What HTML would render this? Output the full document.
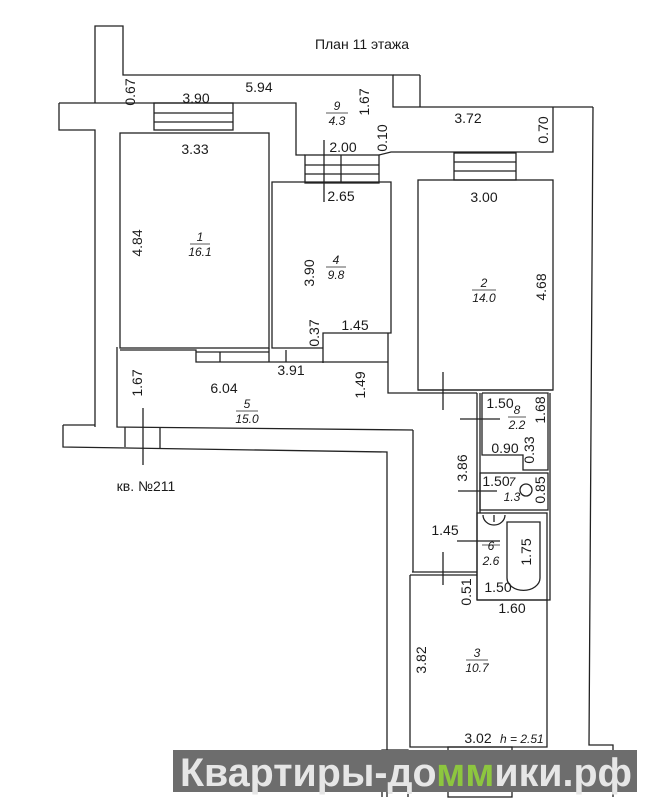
<!DOCTYPE html>
<html><head><meta charset="utf-8"><style>
html,body{margin:0;padding:0;background:#fff;width:645px;height:799px;overflow:hidden}
svg{display:block}
text{font-family:"Liberation Sans",Arial,sans-serif;fill:#1a1a1a}
.d{font-size:14px}
.i{font-size:12px;font-style:italic}
</style></head><body>
<svg width="645" height="799" viewBox="0 0 645 799" xmlns="http://www.w3.org/2000/svg">
<g fill="none" stroke="#222" stroke-width="1.3">
<polyline points="95,103 95,26 123,26 123,75 393,75 393,107 593,107"/>
<polyline points="59,103 296,103 296,155 305,155"/>
<polyline points="59,103 59,130 95,130 95,427"/>
<line x1="420" y1="75" x2="420" y2="107"/>
<line x1="393" y1="75" x2="420" y2="75"/>
<rect x="154" y="103" width="79" height="27"/>
<line x1="154" y1="113" x2="233" y2="113"/><line x1="154" y1="122" x2="233" y2="122"/>
<rect x="120" y="133" width="149" height="215"/>
<rect x="305" y="155" width="74" height="28"/>
<line x1="305" y1="165" x2="379" y2="165"/><line x1="305" y1="174" x2="379" y2="174"/>
<line x1="324" y1="140" x2="324" y2="202"/><line x1="341" y1="155" x2="341" y2="183"/>
<polyline points="379,155 391,152 553,152 553,107"/>
<rect x="454" y="153" width="62" height="27"/>
<line x1="454" y1="162" x2="516" y2="162"/><line x1="454" y1="171" x2="516" y2="171"/>
<polyline points="323,348 272,348 272,182 391,182 391,333 323,333 323,363"/>
<rect x="418" y="180" width="135" height="210"/>
<polyline points="593,107 589,745 613,745 613,797"/>
<polyline points="117,347 117,427 413,430"/>
<polyline points="120,350 196,350 196,362 388,362"/>
<line x1="196" y1="352" x2="269" y2="352"/>
<line x1="220" y1="352" x2="220" y2="362"/>
<line x1="269" y1="348" x2="269" y2="362"/>
<line x1="286" y1="350" x2="286" y2="362"/>
<polyline points="388,333 388,393 418,393"/>
<polyline points="63,425 63,447 387,452 387,797"/>
<line x1="63" y1="425" x2="95" y2="425"/>
<line x1="125" y1="427" x2="125" y2="447"/><line x1="160" y1="427" x2="160" y2="449"/>
<line x1="143" y1="408" x2="143" y2="465"/>
<polyline points="413,430 413,572"/>
<polyline points="418,390 553,390"/>
<line x1="418" y1="393" x2="477" y2="393"/>
<line x1="443" y1="372" x2="443" y2="410"/>
<line x1="477" y1="393" x2="477" y2="600"/>
<line x1="480" y1="393" x2="480" y2="513"/>
<polyline points="482,393 548,393 548,470 523,470 523,455 482,455 482,393"/>
<line x1="460" y1="419" x2="500" y2="419"/>
<rect x="480" y="473" width="68" height="37"/>
<circle cx="526" cy="490" r="6"/>
<line x1="458" y1="491" x2="497" y2="491"/>
<rect x="477" y="513" width="70" height="87"/>
<path d="M507,522 H540 V578 A16,12 0 0 1 507,578 Z"/>
<path d="M483,515 A11,10 0 0 0 505,515"/>
<line x1="494" y1="515" x2="494" y2="522"/>
<line x1="457" y1="541" x2="500" y2="541"/>
<line x1="443" y1="552" x2="443" y2="585"/>
<line x1="412" y1="572" x2="477" y2="572"/>
<polyline points="410,575 477,575"/>
<polyline points="477,600 550,600 550,393"/>
<polyline points="410,575 410,747 547,747 547,600"/>
<rect x="448" y="747" width="64" height="50"/>
<line x1="448" y1="757" x2="512" y2="757"/>
<polyline points="382,797 382,750 408,750 408,797"/>
</g>
<text x="362" y="49" class="d" text-anchor="middle">План 11 этажа</text>
<g class="d" text-anchor="middle">
<text x="259" y="92">5.94</text>
<text x="196" y="103">3.90</text>
<text x="468" y="123">3.72</text>
<text x="343" y="152">2.00</text>
<text x="195" y="154">3.33</text>
<text x="341" y="201">2.65</text>
<text x="484" y="202">3.00</text>
<text x="355" y="330">1.45</text>
<text x="291" y="375">3.91</text>
<text x="224" y="393">6.04</text>
<text x="146" y="491">кв. №211</text>
<text x="500" y="408">1.50</text>
<text x="505" y="453">0.90</text>
<text x="496" y="486">1.50</text>
<text x="445" y="535">1.45</text>
<text x="498" y="592">1.50</text>
<text x="512" y="613">1.60</text>
<text x="478" y="743">3.02</text>
</g>
<text x="500" y="743" class="i">h = 2.51</text>
<g class="d" text-anchor="middle">
<text transform="translate(135,92) rotate(-90)">0.67</text>
<text transform="translate(369,102) rotate(-90)">1.67</text>
<text transform="translate(387,138) rotate(-90)">0.10</text>
<text transform="translate(548,130) rotate(-90)">0.70</text>
<text transform="translate(142,243) rotate(-90)">4.84</text>
<text transform="translate(314,273) rotate(-90)">3.90</text>
<text transform="translate(546,287) rotate(-90)">4.68</text>
<text transform="translate(319,333) rotate(-90)">0.37</text>
<text transform="translate(142,383) rotate(-90)">1.67</text>
<text transform="translate(365,385) rotate(-90)">1.49</text>
<text transform="translate(545,410) rotate(-90)">1.68</text>
<text transform="translate(534,450) rotate(-90)">0.33</text>
<text transform="translate(467,468) rotate(-90)">3.86</text>
<text transform="translate(545,490) rotate(-90)">0.85</text>
<text transform="translate(531,552) rotate(-90)">1.75</text>
<text transform="translate(471,592) rotate(-90)">0.51</text>
<text transform="translate(426,660) rotate(-90)">3.82</text>
</g>
<g class="i" text-anchor="middle">
<text x="337" y="110">9</text><text x="337" y="125">4.3</text>
<text x="200" y="241">1</text><text x="200" y="256">16.1</text>
<text x="336" y="264">4</text><text x="336" y="279">9.8</text>
<text x="484" y="287">2</text><text x="484" y="302">14.0</text>
<text x="247" y="408">5</text><text x="247" y="423">15.0</text>
<text x="517" y="414">8</text><text x="517" y="429">2.2</text>
<text x="512" y="486">7</text><text x="512" y="501">1.3</text>
<text x="491" y="550">6</text><text x="491" y="565">2.6</text>
<text x="477" y="657">3</text><text x="477" y="672">10.7</text>
</g>
<g stroke="#222" stroke-width="0.8">
<line x1="326" y1="113" x2="348" y2="113"/><line x1="190" y1="244" x2="210" y2="244"/>
<line x1="326" y1="267" x2="346" y2="267"/><line x1="472" y1="290" x2="496" y2="290"/>
<line x1="236" y1="411" x2="258" y2="411"/><line x1="508" y1="417" x2="526" y2="417"/>
<line x1="482" y1="545" x2="500" y2="545"/><line x1="466" y1="660" x2="488" y2="660"/>
</g>
<rect x="173" y="750" width="464" height="42" fill="#6d6d6d"/>
<text x="180" y="786" textLength="452" lengthAdjust="spacingAndGlyphs" style="font-size:40px;font-weight:bold;fill:#e6e6e6">Квартиры-до<tspan fill="#8dc63f">мм</tspan>ики.рф</text>
</svg>
</body></html>
